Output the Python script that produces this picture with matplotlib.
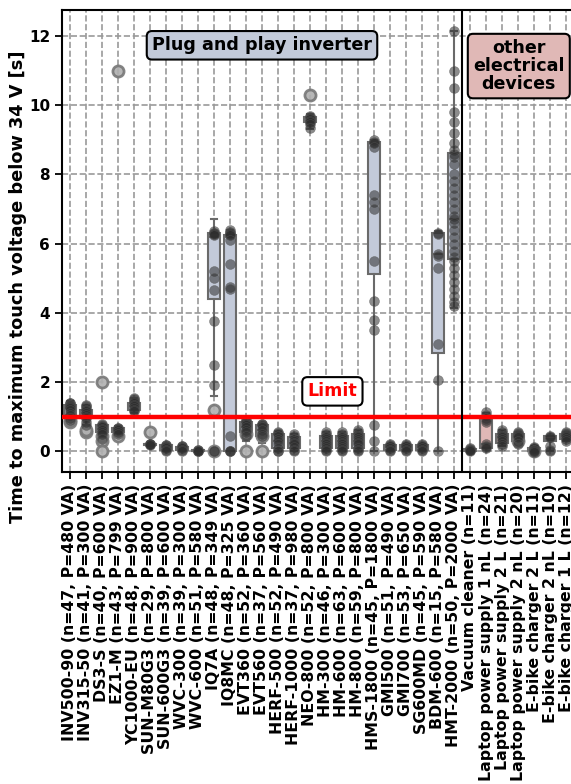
import numpy as np
import matplotlib
matplotlib.use("Agg")
import matplotlib.pyplot as plt

# device labels
labels = ['INV500-90 (n=47, P=480 VA)', 'INV315-50 (n=41, P=300 VA)', 'DS3-S (n=40, P=600 VA)',
          'EZ1-M (n=43, P=799 VA)', 'YC1000-EU (n=48, P=900 VA)', 'SUN-M80G3 (n=29, P=800 VA)',
          'SUN-600G3 (n=39, P=600 VA)', 'WVC-300 (n=39, P=300 VA)', 'WVC-600 (n=51, P=580 VA)',
          'IQ7A (n=48, P=349 VA)', 'IQ8MC (n=48, P=325 VA)', 'EVT360 (n=52, P=360 VA)',
          'EVT560 (n=37, P=560 VA)', 'HERF-500 (n=52, P=490 VA)', 'HERF-1000 (n=37, P=980 VA)',
          'NEO-800 (n=52, P=800 VA)', 'HM-300 (n=46, P=300 VA)', 'HM-600 (n=63, P=600 VA)',
          'HM-800 (n=59, P=800 VA)', 'HMS-1800 (n=45, P=1800 VA)', 'GMI500 (n=51, P=490 VA)',
          'GMI700 (n=53, P=650 VA)', 'SG600MD (n=45, P=590 VA)', 'BDM-600 (n=15, P=580 VA)',
          'HMT-2000 (n=50, P=2000 VA)', 'Vacuum cleaner (n=11)', 'Laptop power supply 1 nL (n=24)',
          'Laptop power supply 2 L (n=21)', 'Laptop power supply 2 nL (n=20)',
          'E-bike charger 2 L (n=11)', 'E-bike charger 2 nL (n=10)', 'E-bike charger 1 L (n=12)']
n_inverter = 25

# box statistics: q1, median, q3, lower whisker, upper whisker
q1 = [1.05, 0.95, 0.55, 0.55, 1.2, 0.18, 0.05, 0.03, 0.0, 4.4, 0.0, 0.55, 0.45, 0.1, 0.1, 9.5,
      0.1, 0.1, 0.1, 5.13, 0.05, 0.05, 0.05, 2.85, 5.55, 0.02, 0.1, 0.25, 0.3, 0.0, 0.3, 0.35]
med = [1.25, 1.1, 0.65, 0.62, 1.3, 0.2, 0.12, 0.08, 0.02, 6.2, 6.2, 0.7, 0.6, 0.3, 0.25, 9.55,
       0.3, 0.3, 0.3, 8.9, 0.12, 0.12, 0.12, 5.7, 6.7, 0.04, 0.2, 0.4, 0.45, 0.05, 0.35, 0.45]
q3 = [1.35, 1.2, 0.75, 0.68, 1.4, 0.22, 0.17, 0.13, 0.04, 6.3, 6.25, 0.85, 0.75, 0.5, 0.4, 9.65,
      0.45, 0.45, 0.5, 8.95, 0.17, 0.17, 0.17, 6.3, 8.63, 0.06, 0.95, 0.5, 0.5, 0.1, 0.45, 0.5]
wlo = [0.95, 0.75, 0.5, 0.5, 1.1, 0.15, 0.0, 0.0, 0.0, 1.6, 0.0, 0.3, 0.25, 0.0, 0.0, 9.3,
       0.0, 0.0, 0.0, 0.0, 0.0, 0.0, 0.0, 0.0, 4.15, 0.0, 0.1, 0.15, 0.2, -0.05, 0.0, 0.3]
whi = [1.45, 1.35, 0.8, 0.72, 1.55, 0.25, 0.2, 0.17, 0.06, 6.7, 6.4, 0.95, 0.8, 0.58, 0.5, 9.75,
       0.55, 0.55, 0.6, 9.0, 0.22, 0.22, 0.22, 6.35, 12.15, 0.08, 1.1, 0.6, 0.55, 0.15, 0.45, 0.55]
fliers = [[0.85, 0.9], [0.55, 0.6], [2.0, 0.45, 0.3, 0.0], [11.0, 0.45], [], [0.55], [], [], [],
          [1.2, 0.0], [], [0.0, 0.5], [0.0, 0.45], [], [], [10.3], [], [], [], [], [], [], [],
          [], [], [], [], [], [0.3], [0.0], [], []]

# measured points
points = [
    [1.4, 1.38, 1.35, 1.33, 1.3, 1.28, 1.25, 1.2, 1.1, 1.05, 0.95, 0.9],
    [1.35, 1.3, 1.25, 1.2, 1.15, 1.1, 1.05, 1.0, 0.95, 0.85, 0.75],
    [0.78, 0.76, 0.74, 0.7, 0.65, 0.6, 0.55, 0.5, 0.35],
    [0.68, 0.66, 0.65, 0.63, 0.6, 0.55, 0.5],
    [1.55, 1.5, 1.45, 1.42, 1.38, 1.35, 1.3, 1.25, 1.2, 1.15],
    [0.22, 0.21, 0.2, 0.2, 0.19],
    [0.18, 0.17, 0.16, 0.12, 0.08, 0.03, 0.0],
    [0.16, 0.15, 0.12, 0.08, 0.04, 0.0],
    [0.04, 0.03, 0.02, 0.01, 0.0],
    [6.35, 6.32, 6.3, 6.28, 6.25, 5.2, 5.0, 4.65, 3.75, 2.5, 1.9, 0.0, 0.0],
    [6.38, 6.33, 6.3, 6.28, 6.25, 6.1, 5.4, 4.75, 4.7, 0.45, 0.0, 0.0, 0.0],
    [0.9, 0.88, 0.85, 0.8, 0.75, 0.7, 0.62, 0.55, 0.45],
    [0.8, 0.78, 0.75, 0.7, 0.6, 0.5, 0.45],
    [0.55, 0.52, 0.5, 0.45, 0.35, 0.3, 0.2, 0.1, 0.02, 0.0],
    [0.5, 0.45, 0.35, 0.3, 0.25, 0.2, 0.12, 0.05, 0.0],
    [9.7, 9.65, 9.62, 9.6, 9.55, 9.5, 9.45, 9.35],
    [0.55, 0.5, 0.45, 0.4, 0.35, 0.3, 0.25, 0.2, 0.15, 0.1, 0.05, 0.0],
    [0.55, 0.5, 0.45, 0.4, 0.35, 0.3, 0.25, 0.2, 0.15, 0.1, 0.05, 0.0],
    [0.6, 0.55, 0.5, 0.45, 0.4, 0.35, 0.3, 0.25, 0.2, 0.1, 0.05, 0.0],
    [8.98, 8.95, 8.92, 8.8, 7.4, 7.2, 7.0, 5.5, 4.35, 3.8, 3.5, 0.75, 0.3, 0.0],
    [0.2, 0.18, 0.16, 0.14, 0.1, 0.05, 0.0],
    [0.2, 0.18, 0.16, 0.14, 0.1, 0.05, 0.0],
    [0.2, 0.18, 0.16, 0.14, 0.1, 0.05, 0.0],
    [6.3, 6.28, 5.7, 5.65, 5.3, 3.1, 2.05, 0.0],
    [12.15, 11.0, 10.5, 9.8, 9.5, 9.2, 8.9, 8.7, 8.6, 8.5, 8.3, 8.0, 7.8, 7.6, 7.4, 7.2, 7.0,
     6.8, 6.7, 6.6, 6.4, 6.2, 6.0, 5.8, 5.6, 5.5, 5.3, 5.1, 4.9, 4.7, 4.5, 4.3, 4.2],
    [0.08, 0.06, 0.05, 0.04, 0.03, 0.02],
    [1.12, 1.05, 0.95, 0.9, 0.85, 0.2, 0.15, 0.12, 0.1],
    [0.6, 0.55, 0.5, 0.45, 0.4, 0.35, 0.3, 0.2, 0.15],
    [0.55, 0.52, 0.5, 0.48, 0.45, 0.4, 0.3, 0.2],
    [0.12, 0.1, 0.08, 0.05, 0.03, 0.0, -0.03],
    [0.45, 0.42, 0.4, 0.15, 0.05, 0.0],
    [0.55, 0.52, 0.5, 0.48, 0.45, 0.4, 0.35, 0.3],
]

limit = 1.0

fig = plt.figure(figsize=(5.71, 7.84), dpi=100)
ax = fig.add_axes([62 / 571, 1 - 472 / 784, 512 / 571, 462 / 784])

stats = []
for i in range(len(labels)):
    stats.append(dict(q1=q1[i], med=med[i], q3=q3[i], whislo=wlo[i], whishi=whi[i],
                      fliers=fliers[i]))
pos = np.arange(len(labels))
bp = ax.bxp(stats, positions=pos, widths=0.8, patch_artist=True,
            boxprops=dict(edgecolor='#6a6a6a', linewidth=1.5),
            whiskerprops=dict(color='#6a6a6a', linewidth=1.5),
            capprops=dict(color='#6a6a6a', linewidth=1.5),
            medianprops=dict(color='#6a6a6a', linewidth=1.5),
            flierprops=dict(marker='o', markerfacecolor='#b0b0b0', markeredgecolor='#777777',
                            markersize=8, markeredgewidth=2, alpha=0.9))
for i, b in enumerate(bp['boxes']):
    b.set_facecolor('#c3cad9' if i < n_inverter else '#e0b8b6')
# caps narrower like seaborn
for c in bp['caps']:
    xd = c.get_xdata()
    m = (xd[0] + xd[1]) / 2
    c.set_xdata([m - 0.2, m + 0.2])

for i, p in enumerate(points):
    ax.scatter(np.full(len(p), pos[i]), p, s=50, color='#2e2e2e', alpha=0.55,
               edgecolors='#555555', linewidths=0.5, zorder=3)

ax.axhline(limit, color='red', linewidth=3.2, zorder=4)
ax.axvline(n_inverter - 0.5, color='black', linewidth=1.5, zorder=4)

ax.set_xlim(-0.5, len(labels) - 0.5)
ax.set_ylim(-0.6, 12.75)
ax.set_yticks([0, 2, 4, 6, 8, 10, 12])
ax.set_xticks(pos)
ax.set_xticklabels(labels, rotation=90, fontweight='bold', fontsize=11.3)
for t in ax.get_yticklabels():
    t.set_fontweight('bold')
    t.set_fontsize(11)
ax.tick_params(direction='out', length=5, width=1.3)
ax.set_ylabel('Time to maximum touch voltage below 34 V [s]', fontweight='bold', fontsize=12.8)
ax.yaxis.set_label_coords(-0.068, 0.40)
ax.grid(True, linestyle='--', color='#999999', linewidth=1.2)
ax.set_axisbelow(True)
for s in ax.spines.values():
    s.set_linewidth(1.5)

ax.text(12.0, 11.73, 'Plug and play inverter', ha='center', va='center', fontsize=12.6,
        fontweight='bold', zorder=6,
        bbox=dict(boxstyle='round,pad=0.3', facecolor='#c3cad9', edgecolor='black', linewidth=1.5))
ax.text(28.05, 11.13, 'other\nelectrical\ndevices', ha='center', va='center', fontsize=12.6,
        fontweight='bold', linespacing=1.0, zorder=6,
        bbox=dict(boxstyle='round,pad=0.3', facecolor='#e0b8b6', edgecolor='black', linewidth=1.5))
ax.text(16.4, 1.73, 'Limit', ha='center', va='center', fontsize=12.6, fontweight='bold',
        color='red', zorder=6,
        bbox=dict(boxstyle='round,pad=0.3', facecolor='white', edgecolor='black', linewidth=1.5))

fig.savefig('out.png', dpi=100)
